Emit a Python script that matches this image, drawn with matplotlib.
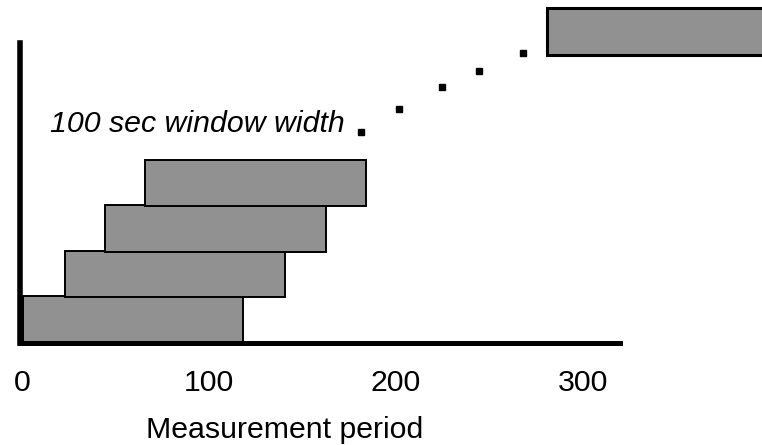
import matplotlib
matplotlib.use('Agg')
from matplotlib import pyplot as plt

# sliding 100 s windows along the measurement period
win_start = [0.5, 23, 44.5, 66, 281]   # left edge of each window
win_len = [118, 118, 118, 118, 130]     # last one runs off the page
win_row = [0, 1, 2, 3, 6.33]            # vertical slot of each window
win_height = 1.03

# dots between the last drawn window and the far one
dot_x = [181.3, 201.6, 225, 244.4, 267.9]
dot_y = [4.64, 5.14, 5.63, 5.98, 6.37]

ticks = [0, 100, 200, 300]

plt.rcParams['font.family'] = ['Liberation Sans', 'DejaVu Sans']
fs = 21.8

W, H = 762, 445
fig = plt.figure(figsize=(W/100, H/100), dpi=100)
ax = fig.add_axes([19.5/W, (H-343)/H, 600.5/W, 300/H])

for i, (x0, w, r) in enumerate(zip(win_start, win_len, win_row)):
    lw = 2.2 if i == len(win_start)-1 else 1.4
    ax.barh(r, w, left=x0, height=win_height, align='edge', color='#919191',
            edgecolor='black', linewidth=lw, clip_on=False, zorder=2)

ax.plot(dot_x, dot_y, 's', color='black', markersize=5, clip_on=False, zorder=3)

ax.text(172.5, 4.64, '100 sec window width', fontsize=fs, style='italic',
        ha='right', va='baseline')

ax.set_xlim(-1.3, 320)
ax.set_ylim(0, 6.59)
ax.spines['top'].set_visible(False)
ax.spines['right'].set_visible(False)
ax.spines['left'].set_linewidth(4)
ax.spines['bottom'].set_linewidth(3.6)
ax.set_yticks([])
ax.set_xticks(ticks)
ax.tick_params(axis='x', length=0, pad=19, labelsize=fs)
ax.set_xlabel('Measurement period', fontsize=fs)
ax.xaxis.set_label_coords(0.442, -0.245)

fig.savefig('out.png', dpi=100)
